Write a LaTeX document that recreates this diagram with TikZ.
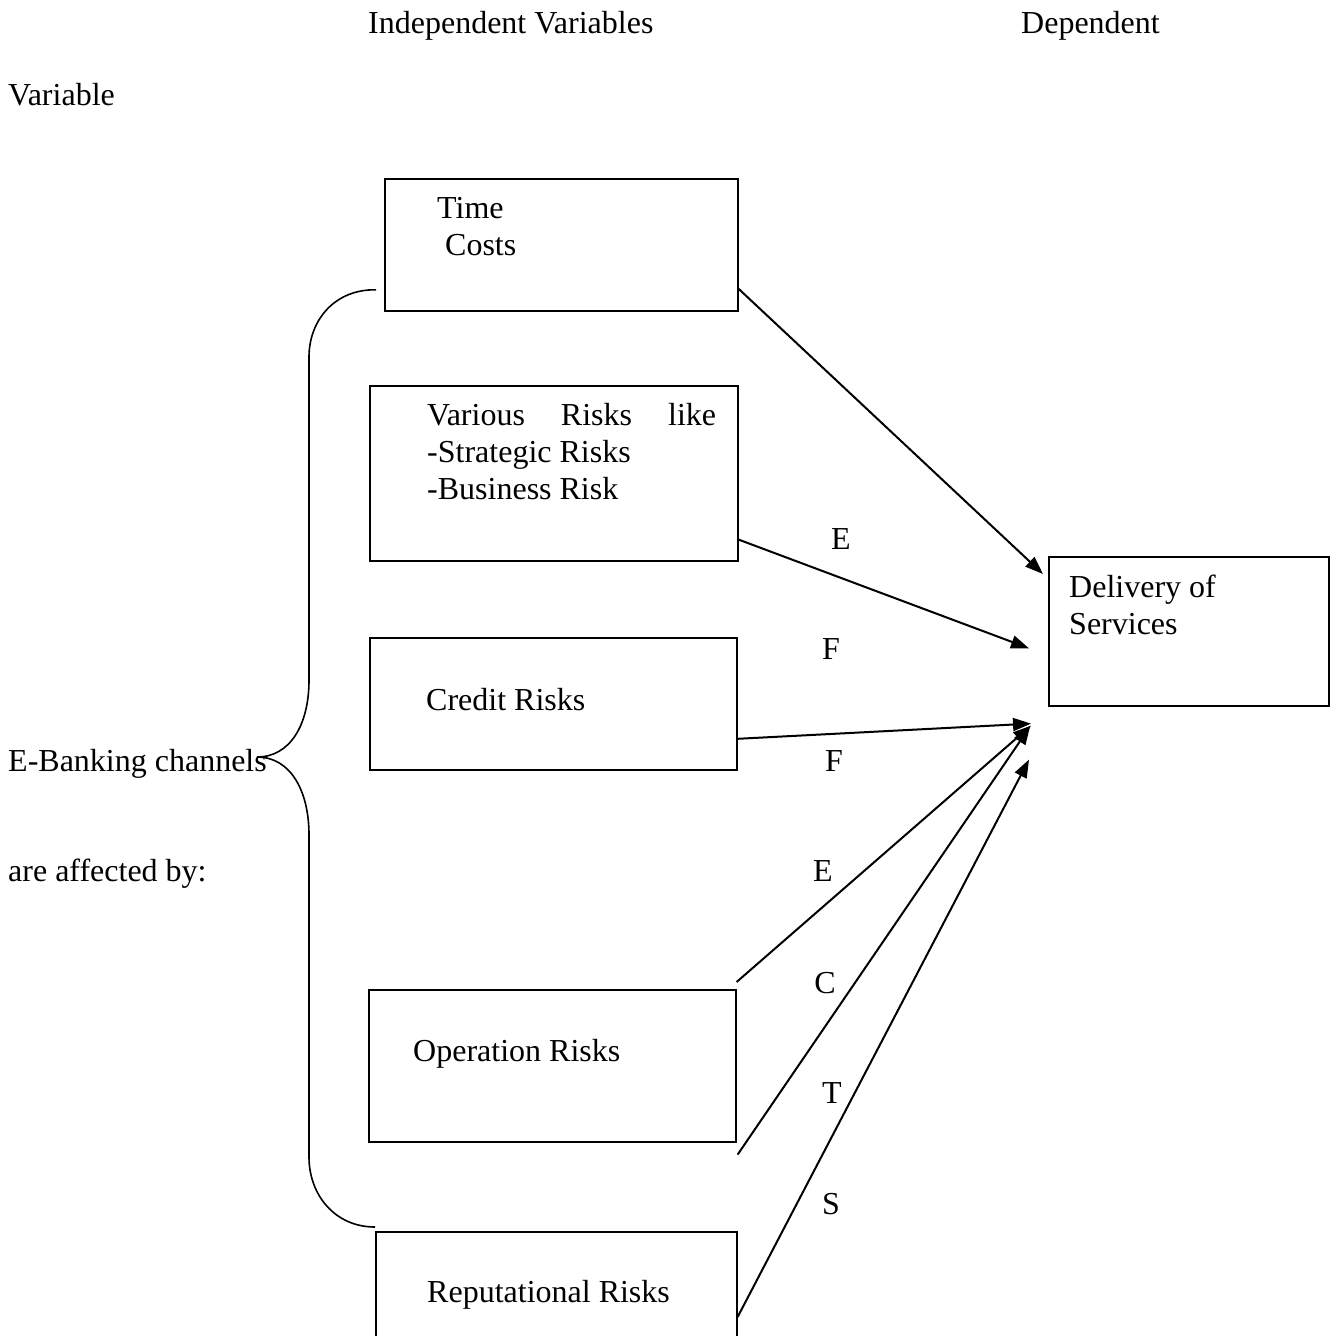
\documentclass[tikz,border=0pt]{standalone}
\usepackage{fontspec}
\setmainfont{Liberation Serif}
\usetikzlibrary{arrows.meta,calc}
\begin{document}
\begin{tikzpicture}[x=1pt,y=-1pt,
  box/.style={draw,line width=1.6pt,inner sep=0pt,anchor=north west},
  conn/.style={line width=2pt,-{Triangle[length=18pt,width=13pt]}},
  txt/.style={anchor=base west,inner sep=0pt,font=\fontsize{32}{38}\selectfont},
  lbl/.style={anchor=base,inner sep=0pt,font=\fontsize{32}{38}\selectfont},
  brace/.style={line width=1.6pt}]
\useasboundingbox (0,0) rectangle (1334,1336);
\clip (0,0) rectangle (1334,1336);
% headings
\node[txt] (h1) at (368,33) {Independent Variables};
\node[txt] (h2) at (1021,33) {Dependent};
\node[txt] (h3) at (8,105) {Variable};
\node[txt] (eb1) at (8,771) {E-Banking channels};
\node[txt] (eb2) at (8,881) {are affected by:};
% boxes
\node[box,minimum width=353pt,minimum height=132pt] (tc) at (384,178) {};
\node[box,minimum width=368pt,minimum height=175pt] (vr) at (369,385) {};
\node[box,minimum width=367pt,minimum height=132pt] (cr) at (369,637) {};
\node[box,minimum width=367pt,minimum height=152pt] (op) at (368,989) {};
\node[box,minimum width=361pt,minimum height=130pt] (rp) at (375,1231) {};
\node[box,minimum width=280pt,minimum height=149pt] (ds) at (1048,556) {};
% box texts
\node[txt] (t1) at (437,218) {Time};
\node[txt] (t2) at (445,255) {Costs};
\node[txt] (v1) at (427,425) {\makebox[289pt]{Various\hfill Risks\hfill like}};
\node[txt] (v2) at (427,462) {-Strategic Risks};
\node[txt] (v3) at (427,499) {-Business Risk};
\node[txt] (c1) at (426,710) {Credit Risks};
\node[txt] (o1) at (413,1061) {Operation Risks};
\node[txt] (r1) at (427,1302) {Reputational Risks};
\node[txt] (d1) at (1069,597) {Delivery of};
\node[txt] (d2) at (1069,634) {Services};
% letters
\node[lbl] (lE1) at (841,549) {E};
\node[lbl] (lF1) at (831,659) {F};
\node[lbl] (lF2) at (834,771) {F};
\node[lbl] (lE2) at (823,881) {E};
\node[lbl] (lC) at (825,993) {C};
\node[lbl] (lT) at (832,1103) {T};
\node[lbl] (lS) at (831,1214) {S};
% connectors
\draw[conn] ($(tc.east)+(0,44)$) -- ($(ds.north west)+(-5,18)$);
\draw[conn] ($(vr.south east)+(0,-22)$) -- ($(ds.west)+(-19,17)$);
\draw[conn] ($(cr.east)+(0,35)$) -- ($(ds.south west)+(-17,17)$);
\draw[conn] ($(op.north east)+(0,-7)$) -- ($(ds.south west)+(-17,19)$);
\draw[conn] ($(op.south east)+(1,12)$) -- ($(ds.south west)+(-18,20)$);
\draw[conn] ($(rp.north east)+(0,86)$) -- ($(ds.south west)+(-19,53)$);
% brace
\draw[brace] ($(tc.west)+(-8,45)$) .. controls (335,289) and (309,320) .. (309,357)
  -- (309,680) .. controls (309,725) and (290,757) .. (257,757)
  .. controls (290,757) and (309,790) .. (309,835)
  -- (309,1157) .. controls (309,1195) and (335,1227) .. ($(rp.north west)+(0,-4)$);
\end{tikzpicture}
\end{document}
